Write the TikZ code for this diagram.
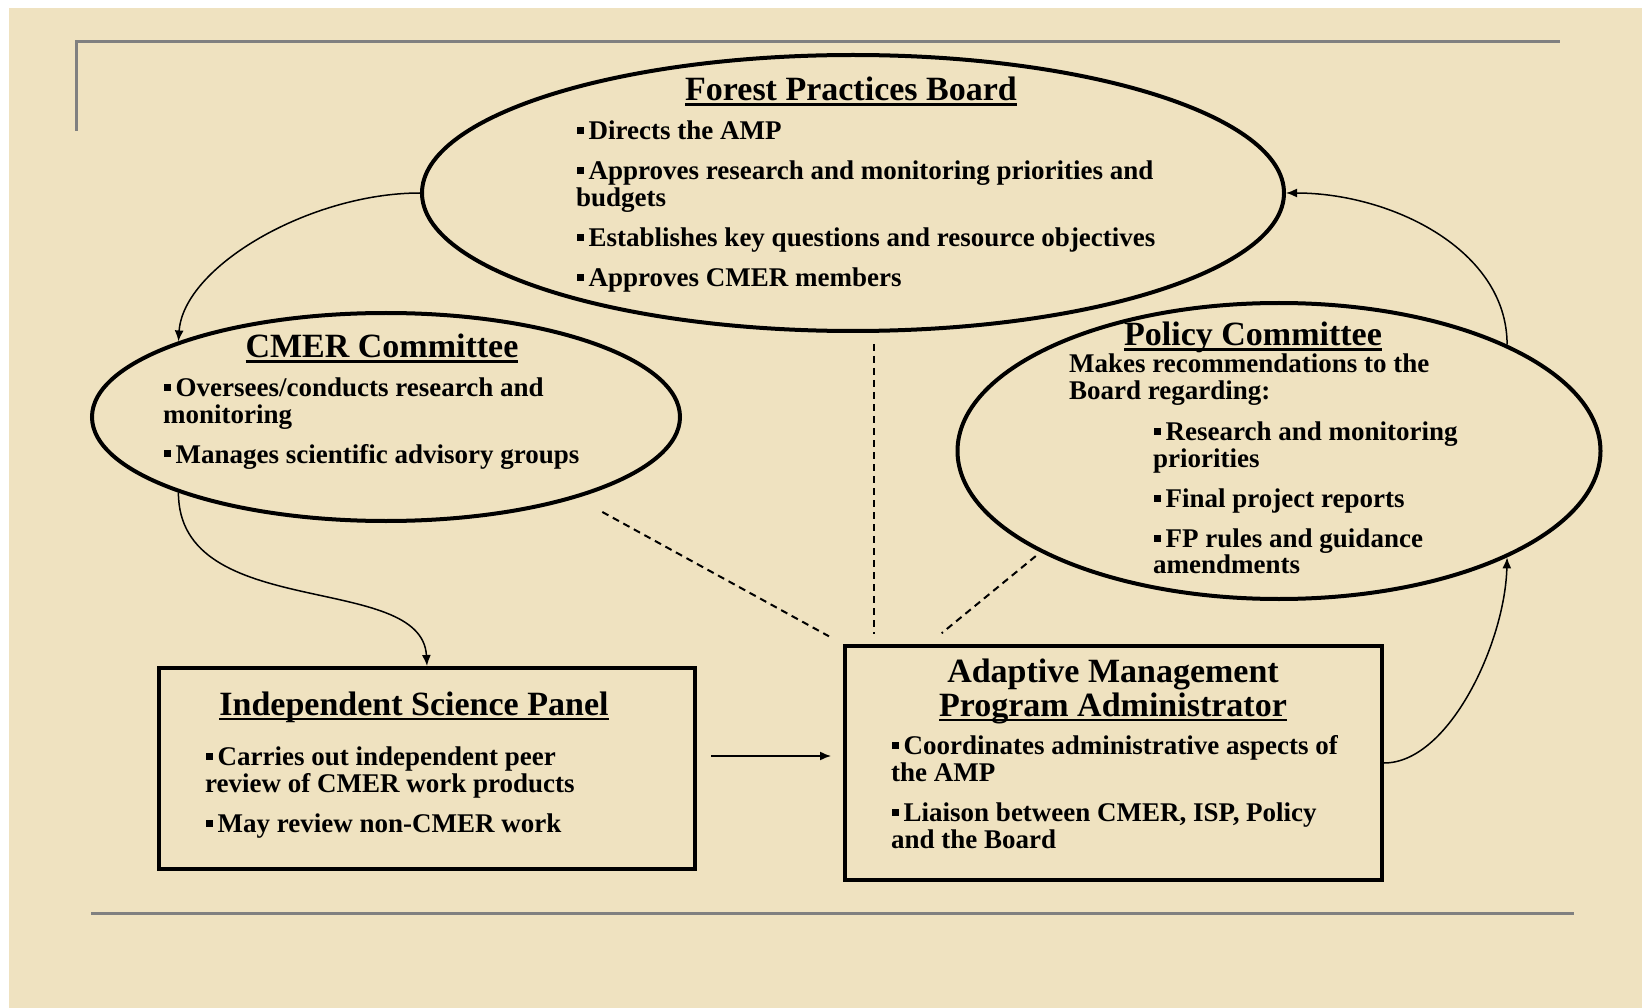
\documentclass[tikz,border=0pt]{standalone}
\usepackage{fontspec}
\setmainfont{Liberation Serif}
\usetikzlibrary{shapes.geometric,arrows.meta,calc}
\definecolor{parchment}{RGB}{239,226,192}
\definecolor{rulegray}{RGB}{128,128,128}

% square bullet
\newcommand\sqb{\makebox[12.5pt][l]{\hspace{0.5pt}\rule[5.5pt]{7pt}{7pt}}}
% underlined heading
\newcommand\ulin[1]{\setbox0\hbox{#1}\rlap{\rule[-5pt]{\wd0}{2.5pt}}\box0}
% stacked lines, baseline at the first line
\newcommand\leftlines[1]{\vtop{\halign{##\hfil\cr#1\crcr}}}
\newcommand\midlines[1]{\vtop{\halign{\hfil##\hfil\cr#1\crcr}}}
\newcommand\pgap{\noalign{\vskip13pt}}

\begin{document}
\begin{tikzpicture}[x=1pt,y=-1pt,
  bubble/.style={ellipse,draw=black,line width=4pt,inner sep=0pt},
  panel/.style={rectangle,draw=black,line width=4pt,inner sep=0pt},
  heading/.style={inner sep=0pt,anchor=base,font=\fontsize{34}{34}\selectfont\bfseries},
  body/.style={inner sep=0pt,anchor=base west,font=\fontsize{27}{27}\selectfont\bfseries},
  link/.style={line width=1.5pt,-{Latex[length=11pt,width=9pt]}},
  tie/.style={line width=2pt,dash pattern=on 7pt off 5pt},
  frame/.style={draw=rulegray,line width=3pt}]

% page
\fill[white] (0,0) rectangle (1642,1008);
\fill[parchment] (9,8) rectangle (1642,1008);
\useasboundingbox (0,0) rectangle (1642,1008);

% frame rules
\draw[frame] (76,131) -- (76,42) -- (1560,42);
\draw[frame] (91,913) -- (1574,913);

% shapes
\node[bubble,minimum width=862pt,minimum height=276pt] (fpb) at (853,193) {};
\node[bubble,minimum width=588pt,minimum height=208pt] (cmer) at (386,417) {};
\node[bubble,minimum width=643pt,minimum height=296pt] (policy) at (1279,451) {};
\node[panel,minimum width=536pt,minimum height=201pt] (isp) at (427,768.5) {};
\node[panel,minimum width=537pt,minimum height=234pt] (ampa) at (1113.5,763) {};

% Forest Practices Board
\node[heading] (fpbT) at (851,101) {\ulin{Forest Practices Board}};
\node[body] (fpbB) at (576,139.5) {\leftlines{\sqb Directs the AMP\cr\pgap
  \sqb Approves research and monitoring priorities and\cr budgets\cr\pgap
  \sqb Establishes key questions and resource objectives\cr\pgap
  \sqb Approves CMER members}};

% CMER Committee
\node[heading] (cmerT) at (382,358) {\ulin{CMER Committee}};
\node[body] (cmerB) at (163,396) {\leftlines{\sqb Oversees/conducts research and\cr monitoring\cr\pgap
  \sqb Manages scientific advisory groups}};

% Policy Committee
\node[heading] (polT) at (1253,346) {\ulin{Policy Committee}};
\node[body] (polI) at (1069,373) {\leftlines{Makes recommendations to the\cr Board regarding:}};
\node[body] (polB) at (1153,440) {\leftlines{\sqb Research and monitoring\cr priorities\cr\pgap
  \sqb Final project reports\cr\pgap
  \sqb FP rules and guidance\cr amendments}};

% Independent Science Panel
\node[heading] (ispT) at (414,715) {\ulin{Independent Science Panel}};
\node[body] (ispB) at (205,765) {\leftlines{\sqb Carries out independent peer\cr review of CMER work products\cr\pgap
  \sqb May review non-CMER work}};

% Adaptive Management Program Administrator
\node[heading] (ampaT) at (1113,682) {\midlines{Adaptive Management\cr\ulin{Program Administrator}}};
\node[body] (ampaB) at (891,754) {\leftlines{\sqb Coordinates administrative aspects of\cr the AMP\cr\pgap
  \sqb Liaison between CMER, ISP, Policy\cr and the Board}};

% flow arrows
\draw[link] (fpb.west) .. controls +(-110,0) and +(5,-75) .. (cmer.160);
\draw[link] (cmer.200) .. controls +(0,130) and +(-5,-95) .. (isp.north);
\coordinate (ispOut) at ([yshift=12.5pt]isp.east);
\draw[link,shorten <=14pt,shorten >=12pt] (ispOut) -- (ispOut -| ampa.west);
\draw[link] (ampa.east) .. controls +(65,0) and +(-2,85) .. (policy.335);
\draw[link] (policy.25) .. controls +(0,-95) and +(105,0) .. (fpb.east);

% dashed ties to the administrator
\draw[tie,shorten <=29pt,shorten >=16pt] (cmer.337) -- (ampa.north west);
\coordinate (vtop) at ([xshift=21pt]fpb.south);
\draw[tie,shorten <=11pt,shorten >=10pt] (vtop) -- (vtop |- ampa.north);
\draw[tie,shorten <=6pt,shorten >=17pt] (policy.203) -- ([xshift=-185pt]ampa.north);

\end{tikzpicture}
\end{document}
